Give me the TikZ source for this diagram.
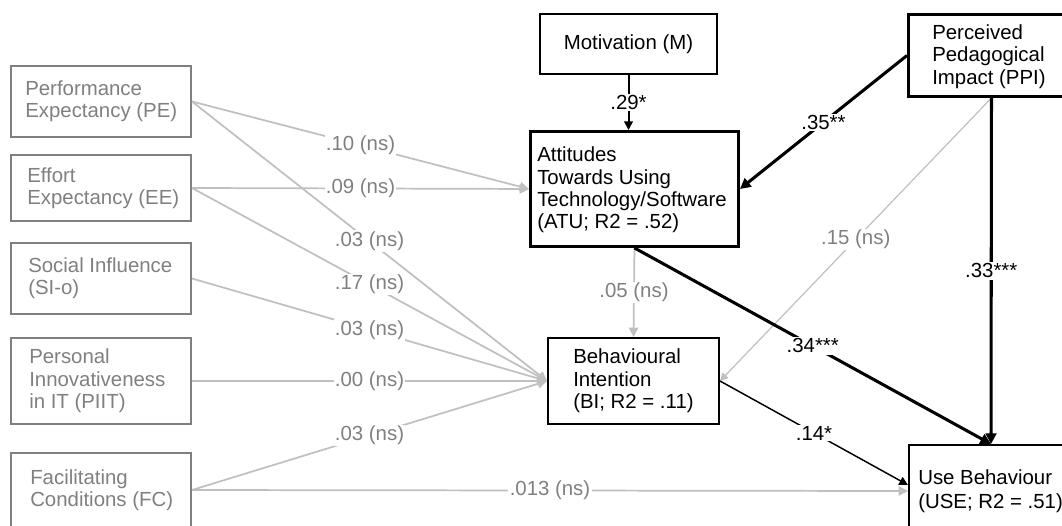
\documentclass[tikz,border=0pt]{standalone}
\usepackage{fontspec}
\setmainfont{Liberation Sans}
\usetikzlibrary{arrows.meta,calc}
\definecolor{boxgray}{RGB}{128,128,128}
\definecolor{linegray}{RGB}{192,192,192}
\definecolor{labgray}{RGB}{128,128,128}
\begin{document}
\begin{tikzpicture}[x=0.75pt,y=-0.75pt,
  font=\fontsize{15.3}{16.8}\selectfont,
  basebox/.style={rectangle, anchor=north west},
  lbox/.style={basebox, draw=boxgray, line width=1.5pt, minimum width=135pt},
  kbox/.style={basebox, draw=black, line width=1.5pt},
  ltext/.style={anchor=west, align=left, inner sep=0pt, text=boxgray},
  ktext/.style={anchor=west, align=left, inner sep=0pt, text=black},
  gline/.style={draw=linegray, line width=1.3pt, -{Triangle[length=7pt,width=7pt]}},
  gthin/.style={draw=linegray, line width=0.9pt, -{Triangle[length=6pt,width=6pt]}},
  kthick/.style={draw=black, line width=2.3pt, -{Triangle[length=8pt,width=8pt]}},
  kmid/.style={draw=black, line width=1.5pt, -{Triangle[length=6.5pt,width=6.5pt]}},
  kthin/.style={draw=black, line width=1.1pt, -{Triangle[length=6.5pt,width=6.5pt]}},
  glab/.style={fill=white, text=labgray, inner sep=1pt, midway},
  klab/.style={fill=white, text=black, inner sep=1pt, midway}]
\useasboundingbox (0,0) rectangle (1062,525);
\clip (0,0) rectangle (1062,525);
\fill[white] (0,0) rectangle (1062,525);

% left boxes
\node[lbox, minimum height=53.25pt] (PE) at (10,65) {};
\node[ltext] (PEt) at ($(PE.west)+(15,0)$) {Performance\\Expectancy (PE)};
\node[lbox, minimum height=49.5pt] (EE) at (10,154) {};
\node[ltext] (EEt) at ($(EE.west)+(17,0)$) {Effort\\Expectancy (EE)};
\node[lbox, minimum height=53.25pt] (SI) at (10,242) {};
\node[ltext] (SIt) at ($(SI.west)+(18,0)$) {Social Influence\\(SI-o)};
\node[lbox, minimum height=64.5pt] (PIIT) at (10,337) {};
\node[ltext] (PIITt) at ($(PIIT.west)+(19,0)$) {Personal\\Innovativeness\\in IT (PIIT)};
\node[lbox, minimum height=55.5pt] (FC) at (10,452) {};
\node[ltext] (FCt) at ($(FC.west)+(20,0)$) {Facilitating\\Conditions (FC)};

% black boxes
\node[kbox, minimum width=132.75pt, minimum height=45pt] (M) at (539,13) {Motivation (M)};
\node[kbox, line width=2.2pt, minimum width=156pt, minimum height=86.25pt] (ATU) at (529,130) {};
\node[ktext] (ATUt) at ($(ATU.west)+(8,1)$) {Attitudes\\Towards Using\\Technology/Software\\(ATU; R2 = .52)};
\node[kbox, minimum width=128.25pt, minimum height=64.5pt] (BI) at (547,337) {};
\node[ktext] (BIt) at ($(BI.west)+(26,0)$) {Behavioural\\Intention\\(BI; R2 = .11)};
\node[kbox, line width=2.2pt, minimum width=124.5pt, minimum height=61.5pt] (PPI) at (907,13) {};
\node[ktext] (PPIt) at ($(PPI.west)+(25,1)$) {Perceived\\Pedagogical\\Impact (PPI)};
\node[kbox, minimum width=123pt, minimum height=69pt] (USE) at (908,444) {};
\node[ktext, font=\fontsize{15.3}{18}\selectfont] (USEt) at ($(USE.west)+(10,0)$) {Use Behaviour\\(USE; R2 = .51)};

% gray connectors
\draw[gline] (PE.east) -- node[glab]{.10 (ns)} (ATU.west);
\draw[gline] (EE.east) -- node[glab]{.09 (ns)} (ATU.west);
\draw[gline] (PE.east) -- node[glab]{.03 (ns)} (BI.west);
\draw[gline] (EE.east) -- node[glab]{.17 (ns)} (BI.west);
\draw[gline] (SI.east) -- node[glab]{.03 (ns)} (BI.west);
\draw[gline] (PIIT.east) -- node[glab]{.00 (ns)} (BI.west);
\draw[gline] (FC.east) -- node[glab]{.03 (ns)} (BI.west);
\draw[gline] (FC.east) -- node[glab]{.013 (ns)} (USE.west);
\draw[gline] (ATU.south) -- node[glab]{.05 (ns)} (BI.north);
\draw[gthin] (PPI.south) -- node[glab]{.15 (ns)} (BI.east);

% black connectors
\draw[kmid] (M.south) -- node[klab]{.29*} (M.south |- ATU.north);
\draw[kthick] (PPI.west) -- node[klab]{.35**} (ATU.east);
\draw[kthick] (ATU.south) -- node[klab]{.34***} (USE.north);
\draw[kthick] (PPI.south) -- node[klab]{.33***} (USE.north);
\draw[kthin] (BI.east) -- node[klab]{.14*} ($(USE.west)+(0,-6)$);
\end{tikzpicture}
\end{document}
